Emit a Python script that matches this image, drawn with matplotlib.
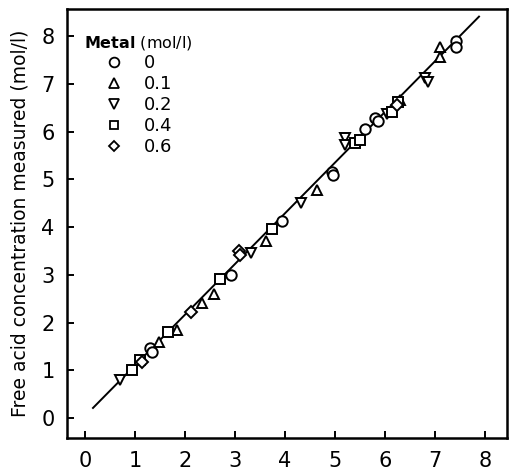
import matplotlib
matplotlib.use("Agg")
import matplotlib.pyplot as plt
from matplotlib.lines import Line2D

# Data (x: calculated, y: measured), mol/l
x_m0 = [1.30, 1.34, 2.92, 3.94, 4.94, 4.96, 5.60, 5.80, 5.86, 7.42, 7.42]
y_m0 = [1.47, 1.38, 3.00, 4.13, 5.16, 5.10, 6.06, 6.29, 6.22, 7.90, 7.78]

x_m1 = [1.48, 1.84, 2.34, 2.58, 3.62, 4.64, 6.30, 7.10, 7.10]
y_m1 = [1.60, 1.84, 2.41, 2.60, 3.71, 4.78, 6.67, 7.78, 7.57]

x_m2 = [0.70, 3.32, 4.32, 5.20, 5.20, 6.04, 6.80, 6.85]
y_m2 = [0.80, 3.46, 4.51, 5.87, 5.72, 6.37, 7.13, 7.05]

x_m4 = [0.94, 1.10, 1.66, 2.70, 3.74, 5.40, 5.50, 6.14, 6.26]
y_m4 = [1.00, 1.22, 1.80, 2.91, 3.96, 5.76, 5.83, 6.41, 6.62]

x_m6 = [1.14, 2.12, 3.08, 3.10, 6.24]
y_m6 = [1.17, 2.22, 3.50, 3.42, 6.56]

line_x = [0.16, 7.88]
line_y = [0.21, 8.41]

legend_labels = ["0", "0.1", "0.2", "0.4", "0.6"]
markers = ["o", "^", "v", "s", "D"]
series = [(x_m0, y_m0), (x_m1, y_m1), (x_m2, y_m2), (x_m4, y_m4), (x_m6, y_m6)]
ticks = [0, 1, 2, 3, 4, 5, 6, 7, 8]

plt.rcParams['font.family'] = ['DejaVu Sans']

fig = plt.figure(figsize=(5.09, 4.72), dpi=100)
ax = fig.add_axes([0.1316, 0.072, 0.8645, 0.909])

ax.plot(line_x, line_y, color='black', lw=1.4, zorder=1)

sizes = {"o": 7.5, "^": 7.5, "v": 7.5, "s": 6.5, "D": 6.0}
handles = []
for (xs, ys), m, lab in zip(series, markers, legend_labels):
    ax.plot(xs, ys, linestyle='none', marker=m, markersize=sizes[m],
            markerfacecolor='white', markeredgecolor='black',
            markeredgewidth=1.4, zorder=3)
    handles.append(Line2D([], [], linestyle='none', marker=m,
                          markersize=sizes[m] - 0.5, markerfacecolor='white',
                          markeredgecolor='black', markeredgewidth=1.3,
                          label=lab))

ax.set_xlim(-0.36, 8.44)
ax.set_ylim(-0.42, 8.57)
ax.set_xticks(ticks)
ax.set_yticks(ticks)
ax.tick_params(direction='in', length=5, width=1.4, labelsize=15,
               top=False, right=False)
ax.tick_params(axis='x', pad=9)
ax.tick_params(axis='y', pad=9)
for sp in ax.spines.values():
    sp.set_linewidth(1.8)

ax.set_ylabel("Free acid concentration measured (mol/l)", fontsize=13.5,
              labelpad=8)

leg = ax.legend(handles=handles, loc='upper left', frameon=False,
                title=r"$\bf{Metal}$ (mol/l)", fontsize=13,
                title_fontsize=11.5, bbox_to_anchor=(0.015, 0.968),
                handletextpad=0.0, labelspacing=0.16, borderaxespad=0.2,
                handlelength=3.3)
leg._legend_box.align = "left"

fig.savefig("out.png", dpi=100)
